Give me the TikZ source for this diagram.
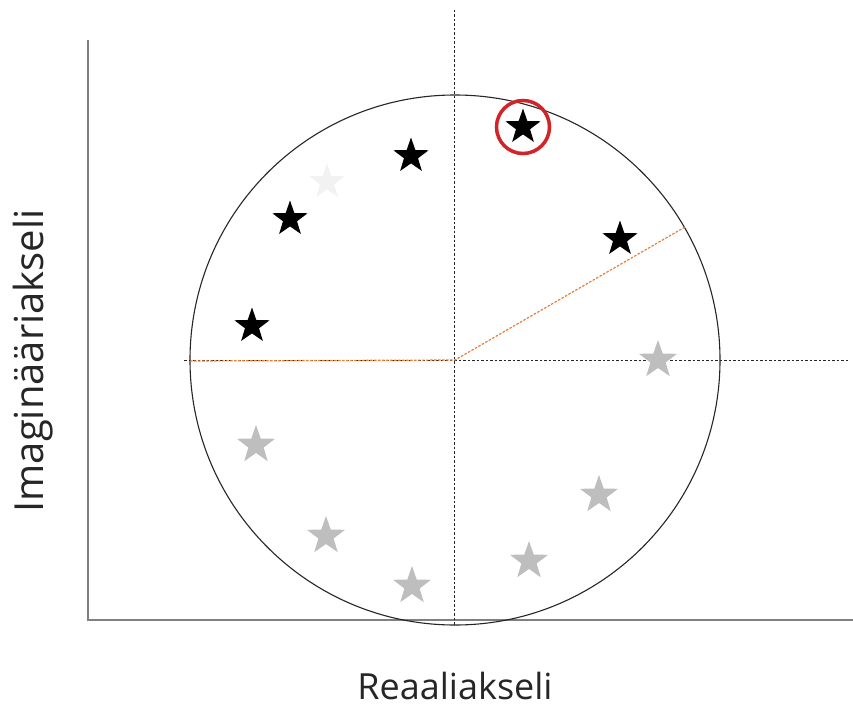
\documentclass[tikz,border=0pt]{standalone}
\usepackage{fontspec}
\setmainfont{Open Sans}
\usetikzlibrary{shapes.geometric}
\definecolor{axisgray}{RGB}{128,128,128}
\definecolor{stargray}{RGB}{190,190,190}
\definecolor{starfaint}{RGB}{242,242,242}
\definecolor{dotorange}{RGB}{237,125,49}
\definecolor{ringred}{RGB}{210,35,40}
\tikzset{
  starshape/.style={star, star points=5, star point ratio=2.5, inner sep=0pt, draw=none},
  blackstar/.style={starshape, fill=black, minimum size=37pt},
  graystar/.style={starshape, fill=stargray, minimum size=40pt},
  faintstar/.style={starshape, fill=starfaint, minimum size=37pt},
  axisline/.style={draw=axisgray, line width=2pt},
  guide/.style={draw=black!85, line width=0.9pt, dash pattern=on 2.5pt off 2pt},
  orangeguide/.style={draw=dotorange, line width=1.2pt, dash pattern=on 2.5pt off 1.5pt},
  axislabel/.style={text=black!85, anchor=base, inner sep=0pt}
}
\begin{document}
\begin{tikzpicture}[x=1pt,y=-1pt]
\useasboundingbox (0,0) rectangle (853,709);
% axes frame
\coordinate (ytop) at (88,40);
\coordinate (origin) at (88,620);
\coordinate (xend) at (853,620);
\draw[axisline] (ytop) -- (origin) -- (xend);
% circle
\coordinate (c) at (455,360);
\node[draw=black!85, line width=1.1pt, circle, minimum size=530pt, inner sep=0pt] (unit) at (c) {};
% dashed guides
\coordinate (vtop) at (454,10);
\coordinate (vbot) at (454,626);
\coordinate (hleft) at (184,360);
\coordinate (hright) at (848,360);
\draw[guide] (vtop) -- (vbot);
\draw[guide] (hleft) -- (hright);
% orange dotted
\coordinate (oleft) at (190,361);
\coordinate (oend) at (685,227);
\draw[orangeguide] (oleft) -- (c) -- (oend);
% stars
\node[faintstar] (s0) at (327,182) {};
\node[blackstar] (s1) at (523,127) {};
\node[blackstar] (s2) at (411,156) {};
\node[blackstar] (s3) at (290,219) {};
\node[blackstar] (s4) at (620,239) {};
\node[blackstar] (s5) at (252,326) {};
\node[graystar] (g1) at (658,360) {};
\node[graystar] (g2) at (256,445) {};
\node[graystar] (g3) at (599,495) {};
\node[graystar] (g4) at (326,536) {};
\node[graystar] (g5) at (529,561) {};
\node[graystar] (g6) at (412,586) {};
% red ring
\node[circle, draw=ringred, line width=3.5pt, minimum size=53pt, inner sep=0pt] (ring) at (523,127) {};
% labels
\node[axislabel, font=\fontsize{36}{42}\selectfont] (xlab) at (455,699) {Reaaliakseli};
\node[axislabel, rotate=90, font=\fontsize{40}{46}\selectfont] (ylab) at (43,361) {Imaginääriakseli};
\end{tikzpicture}
\end{document}
